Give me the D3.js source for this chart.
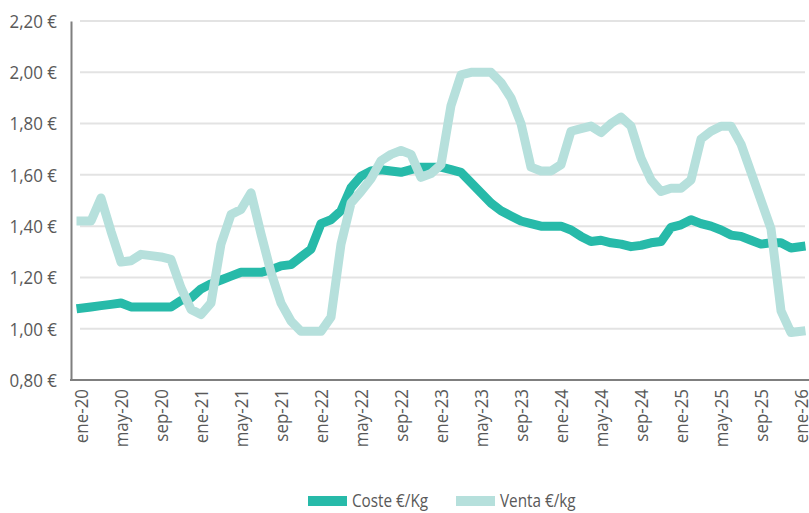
<!DOCTYPE html>
<html>
<head>
    <meta charset="utf-8" />
    <title>Coste y venta €/kg</title>
    <style>
        body { margin: 0; background: #fff; }
        text { font-family: "Open Sans", "Liberation Sans", sans-serif; fill: #595959; }
    </style>
</head>
<body>
<script src="https://d3js.org/d3.v7.min.js"></script>
<script>
    // months ene-20 .. ene-26
    var monthNames = ["ene","feb","mar","abr","may","jun","jul","ago","sep","oct","nov","dic"];
    var years = ["20","21","22","23","24","25","26"];

    var categories = [];
    years.forEach(function(yy, k) {
        monthNames.forEach(function(m, j) {
            if (k < years.length - 1 || j == 0) categories.push(m + "-" + yy);
        });
    });

    var tickLabels = ["ene-20","may-20","sep-20","ene-21","may-21","sep-21","ene-22","may-22","sep-22",
                      "ene-23","may-23","sep-23","ene-24","may-24","sep-24","ene-25","may-25","sep-25","ene-26"];

    var yTicks = [0.8, 1.0, 1.2, 1.4, 1.6, 1.8, 2.0, 2.2];

    var coste = [1.08,1.085,1.09,1.095,1.10,1.085,1.085,1.085,1.085,1.085,
                 1.11,1.12,1.155,1.175,1.19,1.205,1.22,1.22,1.22,1.23,
                 1.245,1.25,1.28,1.31,1.41,1.425,1.46,1.55,1.595,1.615,
                 1.62,1.615,1.61,1.62,1.63,1.63,1.63,1.62,1.61,1.57,
                 1.53,1.49,1.46,1.44,1.42,1.41,1.40,1.40,1.40,1.385,
                 1.36,1.34,1.345,1.335,1.33,1.32,1.325,1.335,1.34,1.395,
                 1.405,1.425,1.41,1.40,1.385,1.365,1.36,1.345,1.33,1.335,
                 1.335,1.315,1.32];

    var venta = [1.42,1.42,1.51,1.38,1.26,1.265,1.29,1.285,1.28,1.27,
                 1.16,1.075,1.055,1.10,1.33,1.445,1.465,1.53,1.37,1.22,
                 1.10,1.03,0.99,0.99,0.99,1.045,1.33,1.49,1.535,1.585,
                 1.655,1.68,1.695,1.68,1.59,1.605,1.64,1.87,1.99,2.00,
                 2.00,2.00,1.96,1.90,1.80,1.63,1.615,1.615,1.64,1.77,
                 1.78,1.79,1.765,1.80,1.825,1.79,1.665,1.58,1.535,1.548,
                 1.548,1.58,1.74,1.77,1.79,1.79,1.72,1.61,1.50,1.39,
                 1.07,0.985,0.99];

    var series = [
        {name: "Coste €/Kg", values: coste, color: "#27baa9"},
        {name: "Venta €/kg", values: venta, color: "#b6e0dc"}
    ];

    var width = 809;
    var height = 513;
    // the original uses a condensed face, so squeeze the text a bit
    var axisSqueeze = 0.94;
    var legendSqueeze = 0.85;

    var svg = d3.select("body").append("svg")
                .attr("width", width)
                .attr("height", height);

    var x = d3.scalePoint()
              .domain(categories)
              .range([81, 801]);

    var y = d3.scaleLinear()
              .domain([0.8, 2.2])
              .range([380, 21]);

    // gridlines
    svg.append("g")
       .selectAll("line")
       .data(yTicks.slice(1))
       .enter().append("line")
       .attr("x1", 80)
       .attr("x2", 805)
       .attr("y1", d => y(d))
       .attr("y2", d => y(d))
       .attr("stroke", "#e3e3e3")
       .attr("stroke-width", 2);

    // y axis
    var yAxis = svg.append("g")
                   .attr("transform", "translate(71,0)")
                   .call(d3.axisLeft(y)
                           .tickValues(yTicks)
                           .tickSize(0)
                           .tickFormat(d => d.toFixed(2).replace(".", ",") + " €"));
    yAxis.select(".domain").attr("stroke", "#7f7f7f").attr("stroke-width", 2);
    yAxis.selectAll(".tick text")
         .style("font-size", "18px")
         .attr("x", -14 / axisSqueeze)
         .attr("dy", "0.35em")
         .attr("transform", "scale(" + axisSqueeze + ",1)");

    // x axis
    var xAxis = svg.append("g")
                   .attr("transform", "translate(0,380)")
                   .call(d3.axisBottom(x).tickValues(tickLabels).tickSize(0));
    xAxis.select(".domain").remove();
    xAxis.append("line")
         .attr("x1", 70).attr("x2", 809)
         .attr("stroke", "#7f7f7f").attr("stroke-width", 2);
    xAxis.selectAll(".tick text")
         .style("font-size", "18px")
         .attr("text-anchor", "end")
         .attr("transform", "rotate(-90) scale(" + axisSqueeze + ",1)")
         .attr("x", -9 / axisSqueeze)
         .attr("y", 0)
         .attr("dy", "0.35em");

    // lines
    var line = d3.line()
                 .x((d, i) => x(categories[i]))
                 .y(d => y(d));

    svg.append("g")
       .selectAll("path")
       .data(series)
       .enter().append("path")
       .attr("d", d => line(d.values))
       .attr("fill", "none")
       .attr("stroke", d => d.color)
       .attr("stroke-width", 9)
       .attr("stroke-linejoin", "round")
       .attr("stroke-linecap", "square");

    // legend
    var legendPos = [308, 456];
    var legend = svg.append("g")
                    .selectAll("g")
                    .data(series)
                    .enter().append("g")
                    .attr("transform", (d, i) => "translate(" + legendPos[i] + ",501)");

    legend.append("rect")
          .attr("x", 0).attr("y", -5)
          .attr("width", 39).attr("height", 10)
          .attr("fill", d => d.color);

    legend.append("text")
          .attr("x", 44 / legendSqueeze)
          .attr("dy", "0.35em")
          .attr("transform", "scale(" + legendSqueeze + ",1)")
          .style("font-size", "18px")
          .text(d => d.name);
</script>
</body>
</html>
